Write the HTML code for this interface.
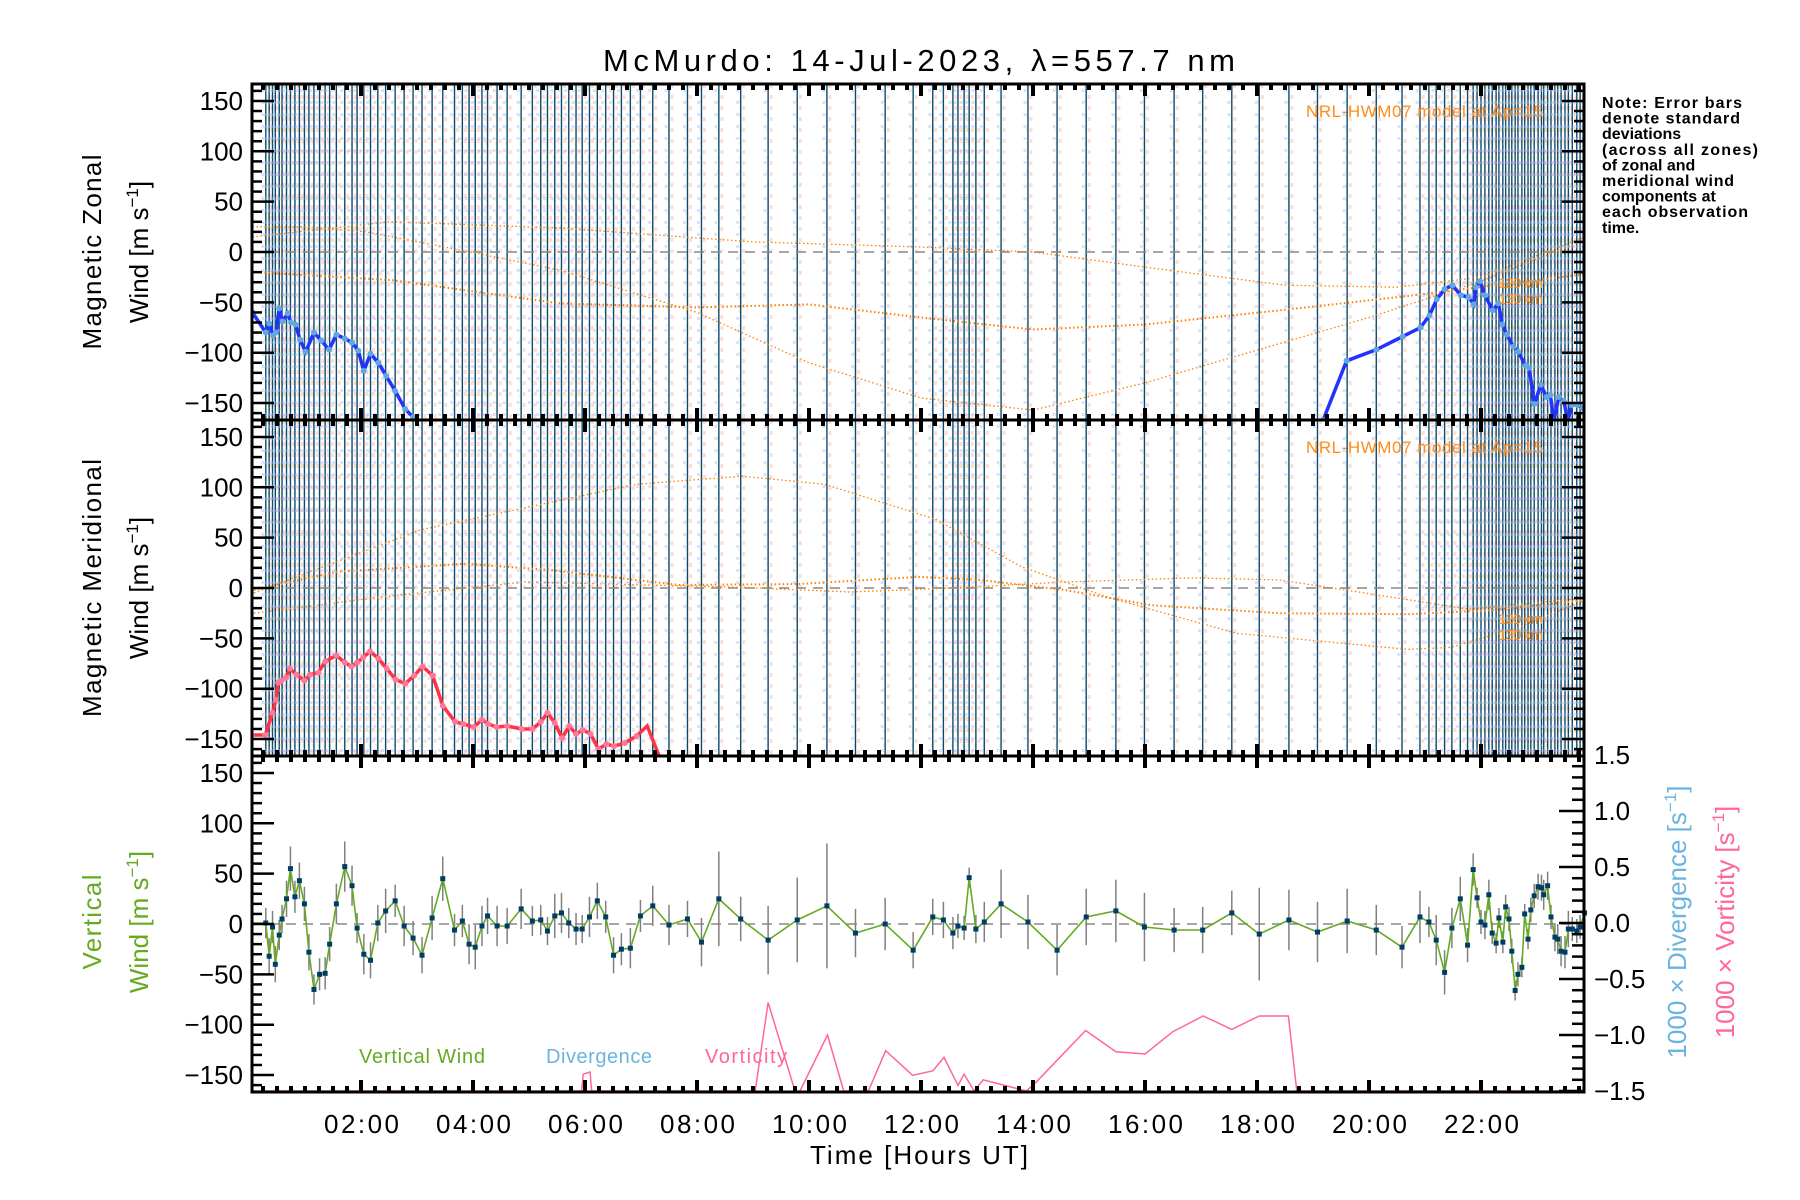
<!DOCTYPE html>
<html><head><meta charset="utf-8"><title>McMurdo winds</title>
<style>
html,body{margin:0;padding:0;background:#fff;}
svg{display:block;font-family:"Liberation Sans",sans-serif;}
</style></head>
<body>
<svg id="chart" width="1800" height="1200" viewBox="0 0 1800 1200" xmlns="http://www.w3.org/2000/svg">
<rect x="0" y="0" width="1800" height="1200" fill="#fff"/>
<text x="603" y="71" font-size="31" textLength="632" lengthAdjust="spacing">McMurdo: 14-Jul-2023, λ=557.7 nm</text>
<g font-size="16" font-weight="bold">
<text x="1602" y="108" textLength="140">Note: Error bars</text>
<text x="1602" y="123.6" textLength="138">denote standard</text>
<text x="1602" y="139.2">deviations</text>
<text x="1602" y="154.8" textLength="156">(across all zones)</text>
<text x="1602" y="170.4">of zonal and</text>
<text x="1602" y="186" textLength="132">meridional wind</text>
<text x="1602" y="201.6">components at</text>
<text x="1602" y="217.2" textLength="146">each observation</text>
<text x="1602" y="232.8">time.</text>
</g>
</svg>
<script>
// ---- data ----
const vertTimes = [0.30,0.36,0.42,0.47,0.54,0.59,0.67,0.74,0.82,0.90,0.99,1.07,1.16,1.26,1.36,1.44,1.56,1.71,1.84,1.93,2.05,2.17,2.30,2.44,2.61,2.77,2.93,3.09,3.27,3.46,3.67,3.81,3.93,4.04,4.16,4.26,4.43,4.61,4.86,5.06,5.21,5.33,5.46,5.58,5.71,5.84,5.95,6.08,6.22,6.37,6.51,6.65,6.81,6.99,7.21,7.50,7.83,
8.08,8.39,8.78,9.27,9.79,10.32,10.83,11.36,11.86,12.21,12.40,12.57,12.66,12.77,12.86,12.98,13.13,13.43,13.91,14.43,14.95,15.48,
15.99,16.52,17.03,17.55,18.04,18.57,19.08,19.61,20.13,20.59,20.91,21.07,21.20,21.35,21.48,21.63,21.76,21.86,21.93,22.00,22.07,22.14,22.20,22.27,22.32,22.39,22.44,22.50,22.55,22.61,22.66,22.73,22.78,22.84,22.89,22.95,23.02,23.08,23.12,23.19,23.25,23.32,23.37,23.43,23.50,23.56,23.63,23.71,23.77,23.85];
const vertWind = [1,-32,-3,-40,-11,5,25,55,27,43,20,-28,-65,-50,-49,-20,20,57,38,-4,-30,-36,1,13,23,-2,-14,-31,6,45,-6,3,-20,-23,-2,8,-2,-2,15,3,4,-7,8,11,1,-5,-5,7,23,7,-31,-25,-24,8,18,-1,5,
-18,25,5,-16,4,18,-9,0,-26,7,4,-9,-2,-4,46,-5,2,20,2,-26,7,13,
-3,-6,-6,11,-10,4,-8,3,-6,-23,7,2,-16,-48,-4,25,-21,54,26,2,-1,29,-9,-19,6,-18,17,5,-27,-66,-50,-43,10,-15,14,28,37,36,29,38,7,-13,-15,-27,-28,-5,-5,-7,-3,11];
const vertErr = [15,18,16,18,15,14,18,22,16,18,17,18,15,16,16,17,20,25,20,15,20,18,18,22,16,20,17,18,22,22,16,16,20,22,20,18,20,18,20,15,15,14,22,20,15,16,14,20,18,16,18,16,20,16,20,20,18,
24,47,22,34,42,62,24,26,18,18,18,16,12,12,10,14,20,34,27,25,28,31,
34,22,23,22,46,30,30,32,25,21,26,15,25,22,20,22,17,16,10,12,14,15,11,10,10,11,12,12,12,10,12,10,10,10,12,12,13,13,15,14,12,14,15,15,16,18,12,12,12,14];
const zonalTimes = [0.06,0.30,0.36,0.43,0.48,0.54,0.60,0.69,0.75,0.83,0.91,1.01,1.16,1.29,1.43,1.56,1.71,1.84,1.95,2.05,2.17,2.31,2.45,2.61,2.79,2.93,null,19.18,19.60,20.13,20.60,20.92,21.08,21.21,21.35,21.49,21.64,21.78,21.87,21.91,21.98,22.07,22.21,22.31,22.38,22.46,22.58,22.66,22.80,22.86,22.95,23.07,23.17,23.24,23.30,23.39,23.48,23.55,23.62,23.72,23.82];
const zonalWind = [-60,-80,-71,-83,-80,-56,-69,-61,-70,-72,-87,-99,-80,-88,-97,-82,-86,-90,-98,-118,-101,-110,-123,-138,-156,-164,null,-167,-108,-97,-84,-75,-63,-47,-37,-33,-43,-45,-52,-35,-29,-43,-58,-51,-72,-82,-94,-99,-113,-115,-151,-132,-144,-142,-168,-144,-148,-168,-152,-152,-155];
const meridTimes = [0.05,0.29,0.42,0.48,0.52,0.58,0.66,0.73,0.85,0.99,1.09,1.24,1.36,1.56,1.71,1.83,1.93,2.04,2.16,2.31,2.46,2.62,2.79,2.95,3.10,3.28,3.46,3.68,3.83,4.01,4.16,4.27,4.42,4.61,4.87,5.06,5.21,5.33,5.46,5.59,5.72,5.84,5.96,6.10,6.24,6.38,6.52,6.71,6.92];
const meridWind = [-146,-146,-124,-111,-94,-92,-89,-80,-86,-92,-86,-84,-73,-67,-74,-78,-74,-69,-63,-70,-80,-91,-95,-87,-78,-87,-117,-133,-135,-138,-131,-135,-138,-137,-140,-140,-133,-124,-134,-149,-137,-145,-141,-145,-160,-155,-157,-154,-147];
const meridWindTail = [-137,-169];
const meridTimesTail = [7.11,7.34];
const hwmZonalT1 = [[0.06,15],[2.5,30],[5.5,24],[9,10],[12,5],[14,0],[16,-15],[18.5,-33],[20.5,-35],[22,-25],[23.86,15]];
const hwmZonalT2 = [[0.06,25],[1,25],[2.1,20],[3.95,0],[5.55,-18],[8,-60],[10,-110],[12,-145],[14,-157],[16,-130],[18.4,-91],[20,-65],[22,-29],[23.86,12]];
const hwmZonalT3 = [[0.06,-20],[2.57,-28],[5.55,-51],[8,-55],[10,-52],[12,-65],[14,-77],[16,-72],[18.4,-58],[20.8,-43],[23.86,-22]];
const hwmMeridM1 = [[0.09,-5],[3.08,58],[6.91,103],[8.82,111],[10.28,103],[12.27,68],[13.8,21],[15.33,-9],[17.63,-45],[20.7,-61],[21.46,-59],[22.68,-39],[23.86,-12]];
const hwmMeridM2 = [[0.09,-25],[2.5,-8],[4.92,6],[8.59,1],[10.73,-4],[12.57,0],[14.57,6],[16.86,10],[18.39,8],[19.93,-5],[21.77,-21],[23.86,-10]];
const hwmMeridM3 = [[0.09,-2],[1.55,16],[3.85,24],[5.37,18],[7.68,3],[9.82,4],[11.96,11],[13.04,8],[14.57,-2],[16.1,-17],[18.39,-25],[20.7,-26],[22.2,-22],[23.86,-12]];
const vortTimes = [0.07,5.94,5.97,6.09,6.12,9.04,9.27,9.75,9.84,10.33,10.62,11.06,11.37,11.85,12.21,12.41,12.66,12.77,12.95,13.11,13.88,14.02,14.94,15.48,16.0,16.5,17.04,17.55,18.04,18.56,18.71,23.86];
const vortVals = [-1.5,-1.5,-1.35,-1.33,-1.5,-1.5,-0.71,-1.5,-1.5,-1.0,-1.5,-1.5,-1.14,-1.36,-1.32,-1.20,-1.45,-1.35,-1.5,-1.40,-1.5,-1.44,-0.96,-1.15,-1.17,-0.97,-0.83,-0.95,-0.83,-0.83,-1.5,-1.5];
const windTicks = [-150,-100,-50,0,50,100,150];
const rightTicks = [-1.5,-1.0,-0.5,0.0,0.5,1.0,1.5];
const hourTicks = [2,4,6,8,10,12,14,16,18,20,22];

// ---- layout ----
const svg = document.getElementById('chart');
const NS = 'http://www.w3.org/2000/svg';
const L = 252, R = 1584;
const panels = [{top:84,bot:420},{top:420,bot:756},{top:756,bot:1092}];
const X = h => 249 + 56*h;
const Y = (p, v) => panels[p].top + 168 - v*1.007;
const YR = v => 923 - v*112;
function mk(tag, attrs, parent){ const e=document.createElementNS(NS,tag); for(const k in attrs) e.setAttribute(k,attrs[k]); (parent||svg).appendChild(e); return e; }
function pts(ts, vs, yf){ return ts.map((t,i)=>X(t).toFixed(1)+','+yf(vs[i]).toFixed(1)).join(' '); }

const defs = mk('defs',{});
panels.forEach((p,i)=>{ const c=mk('clipPath',{id:'clip'+i},defs); mk('rect',{x:L,y:p.top,width:R-L,height:p.bot-p.top},c); });

const gObs = mk('g',{'clip-path':'url(#clip0)'});


const gObs2 = mk('g',{'clip-path':'url(#clip1)'});


[[gObs,0],[gObs2,1]].forEach(([g,pi])=>{
  const p=panels[pi];
  vertTimes.forEach((t,i)=>{
    const x=X(t);
    const a=mk('line',{x1:x+3,x2:x+3,y1:p.top,y2:p.bot,stroke:'#f6a08c','stroke-width':3,'stroke-dasharray':'4 7','stroke-opacity':0.35},g);
    
    
    const b=mk('line',{x1:x-3,x2:x-3,y1:p.top+5,y2:p.bot,stroke:'#a8b4f0','stroke-width':3,'stroke-dasharray':'3 9','stroke-opacity':0.4},g);
    
    
    const c=mk('line',{x1:x-1,x2:x-1,y1:p.top+2,y2:p.bot,stroke:'#c8f0a0','stroke-width':3,'stroke-dasharray':'3 11','stroke-opacity':0.35},g);
    
    
    const l=mk('line',{x1:x,x2:x,y1:p.top,y2:p.bot,stroke:'#0d4a70','stroke-width':1.4},g);
    
    
  });
});

panels.forEach((p,i)=>{
  const z=mk('line',{x1:L,x2:R,y1:Y(i,0),y2:Y(i,0),stroke:'#888','stroke-width':1.5,'stroke-dasharray':'10 7'});
  
  
});

function curve(arr, pi, w, name){
  const c=mk('polyline',{points:arr.map(d=>X(d[0]).toFixed(1)+','+Y(pi,d[1]).toFixed(1)).join(' '),fill:'none',stroke:'#ff8000','stroke-width':w,'stroke-dasharray':'1.5 2.5','clip-path':'url(#clip'+pi+')'});
  
  
}
curve(hwmZonalT1,0,1.3,'hwm-zonal-curve-1');
curve(hwmZonalT2,0,1.3,'hwm-zonal-curve-2');
curve(hwmZonalT3,0,2,'hwm-zonal-curve-3');
curve(hwmMeridM1,1,1.3,'hwm-meridional-curve-1');
curve(hwmMeridM2,1,1.3,'hwm-meridional-curve-2');
curve(hwmMeridM3,1,2,'hwm-meridional-curve-3');

let segs=[[]];
zonalTimes.forEach((t,i)=>{ if(t===null){segs.push([]);} else segs[segs.length-1].push([t,zonalWind[i]]); });
segs.forEach(s=>{
  const pl=mk('polyline',{points:s.map(d=>X(d[0]).toFixed(1)+','+Y(0,d[1]).toFixed(1)).join(' '),fill:'none',stroke:'#2233ff','stroke-width':3.5,'clip-path':'url(#clip0)'});
  
  
  s.forEach(d=>{
    const c=mk('circle',{cx:X(d[0]),cy:Y(0,d[1]),r:3,fill:'#5fa8e0','clip-path':'url(#clip0)'});
    
    
  });
});

const mT = meridTimes.concat(meridTimesTail), mV = meridWind.concat(meridWindTail);
const ml=mk('polyline',{points:pts(mT,mV,v=>Y(1,v)),fill:'none',stroke:'#ff3344','stroke-width':3.5,'clip-path':'url(#clip1)'});


meridTimes.forEach((t,i)=>{
  const c=mk('circle',{cx:X(t),cy:Y(1,meridWind[i]),r:3,fill:'#ff7799','clip-path':'url(#clip1)'});
  
  
});

const vl=mk('polyline',{points:pts(vortTimes,vortVals,YR),fill:'none',stroke:'#ff6699','stroke-width':1.5,'clip-path':'url(#clip2)'});



vertTimes.forEach((t,i)=>{
  const e=mk('line',{x1:X(t),x2:X(t),y1:Y(2,vertWind[i]+vertErr[i]),y2:Y(2,vertWind[i]-vertErr[i]),stroke:'#808080','stroke-width':1.5});
  
  
});
const vw=mk('polyline',{points:'252,923 '+pts(vertTimes,vertWind,v=>Y(2,v)),fill:'none',stroke:'#66aa22','stroke-width':1.6});


vertTimes.forEach((t,i)=>{
  const r=mk('rect',{x:X(t)-2.5,y:Y(2,vertWind[i])-2.5,width:5,height:5,fill:'#003d66'});
  
  
});

panels.forEach((p,pi)=>{
  const f=mk('rect',{x:L,y:p.top,width:R-L,height:p.bot-p.top,fill:'none',stroke:'#000','stroke-width':3});
  
  
  for(let v=-160; v<=160; v+=10){
    const y=Y(pi,v); if(y<p.top+1||y>p.bot-1) continue;
    const len = v%50===0 ? 22 : 10;
    const t=mk('line',{x1:L,x2:L+len,y1:y,y2:y,stroke:'#000','stroke-width':2.5});
    
    
    if(pi<2){
      const t2=mk('line',{x1:R,x2:R-len,y1:y,y2:y,stroke:'#000','stroke-width':2.5});
      
      
    }
  }
  windTicks.forEach(v=>{
    const tx=mk('text',{x:243,y:Y(pi,v)+9,'font-size':26,'text-anchor':'end'});
    tx.textContent = v<0 ? '−'+Math.abs(v) : String(v);
    
    
  });
  for(let m=0; m<=24*4; m++){
    const h=m/4, x=X(h); if(x<L+1||x>R-1) continue;
    const len = m%8===0 ? 12 : 6;
    const a=mk('line',{x1:x,x2:x,y1:p.bot,y2:p.bot-len,stroke:'#000','stroke-width':4});
    
    
    const b=mk('line',{x1:x,x2:x,y1:p.top,y2:p.top+len,stroke:'#000','stroke-width':4});
    
    
  }
});
for(let k=-15;k<=15;k++){
  const y=YR(k/10); if(y<757||y>1091) continue;
  const len = k%5===0 ? 25 : 12;
  const t=mk('line',{x1:R,x2:R-len,y1:y,y2:y,stroke:'#000','stroke-width':2.5});
  
  
}
rightTicks.forEach(v=>{
  const tx=mk('text',{x:1594,y:YR(v)+9,'font-size':26});
  tx.textContent = (v<0?'−':'')+Math.abs(v).toFixed(1);
  
  
});
hourTicks.forEach(h=>{
  const tx=mk('text',{x:X(h)-37,y:1133,'font-size':26,textLength:75,lengthAdjust:'spacing'});
  tx.textContent = (h<10?'0':'')+h+':00';
  
  
});

function rotText(x,y,txt,color,name,len){
  const a={x:x,y:y,'font-size':26,'text-anchor':'middle',fill:color||'#000',transform:'rotate(-90 '+x+' '+y+')'};
  if(len){ a.x=x; a.y=y; a['text-anchor']='start'; a.transform='rotate(-90 '+x+' '+y+')'; }
  const t=mk('text',a);
  if(len){ t.setAttribute('x',x-len/2); t.setAttribute('textLength',len); t.setAttribute('lengthAdjust','spacing'); }
  t.innerHTML=txt;
  
  
}
const unit='Wind [m s<tspan dy="-10" font-size="17">−1</tspan><tspan dy="10">]</tspan>';
rotText(101,252,'Magnetic  Zonal','#000','zonal-y-axis-title',195);
rotText(148,252,unit,'#000','zonal-y-axis-unit');
rotText(101,588,'Magnetic  Meridional','#000','meridional-y-axis-title',258);
rotText(148,588,unit,'#000','meridional-y-axis-unit');
rotText(101,922,'Vertical','#66aa22','vertical-y-axis-title',95);
rotText(148,922,unit,'#66aa22','vertical-y-axis-unit');
rotText(1686,922,'1000 × Divergence [s<tspan dy="-10" font-size="17">−1</tspan><tspan dy="10">]</tspan>','#6ab4e0','divergence-axis-title');
rotText(1734,922,'1000 × Vorticity [s<tspan dy="-10" font-size="17">−1</tspan><tspan dy="10">]</tspan>','#ff6699','vorticity-axis-title');

const xt=mk('text',{x:810,y:1164,'font-size':26,textLength:218,lengthAdjust:'spacing'});
xt.textContent='Time [Hours UT]';



[['Vertical Wind','#66aa22',359,126,'legend-vertical-wind'],['Divergence','#6ab4e0',546,106,'legend-divergence'],['Vorticity','#ff6699',705,82,'legend-vorticity']].forEach(d=>{
  const t=mk('text',{x:d[2],y:1063,'font-size':20,fill:d[1],textLength:d[3],lengthAdjust:'spacing'});
  t.textContent=d[0];
  
  
});
[0,336].forEach(off=>{
  const t=mk('text',{x:1306,y:117+off,'font-size':17,fill:'#ff8c1a',textLength:237,lengthAdjust:'spacing'});
  t.textContent='NRL-HWM07 model at Ap=15';
  
  
  const a=mk('text',{x:1498,y:288+off,'font-size':15,fill:'#ff8c1a',textLength:45,lengthAdjust:'spacing'});
  a.textContent='120 km';
  
  
  const b=mk('text',{x:1498,y:304+off,'font-size':15,fill:'#ff8c1a',textLength:45,lengthAdjust:'spacing'});
  b.textContent='130 km';
  
  
});
</script>
</body></html>
